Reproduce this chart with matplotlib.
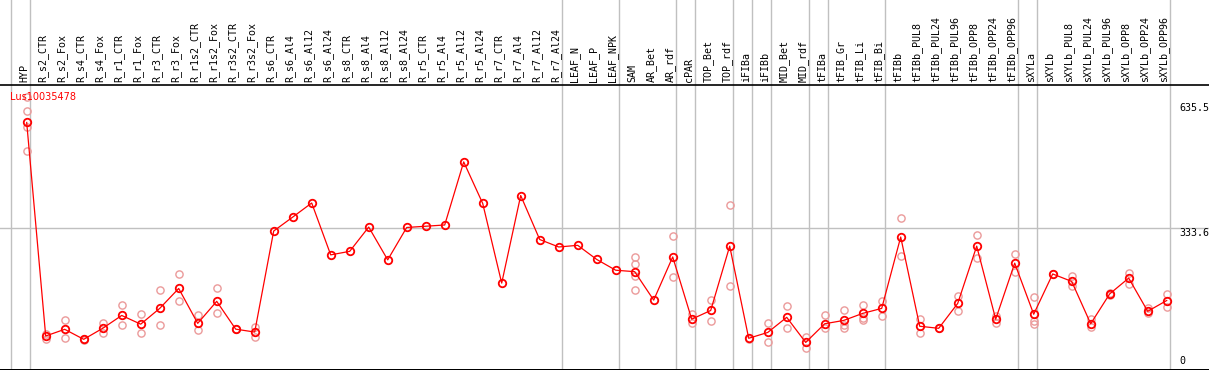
import matplotlib
matplotlib.use("Agg")
import matplotlib.pyplot as plt

# sample labels, left to right
samples = ["HYP", "R_s2_CTR", "R_s2_Fox", "R_s4_CTR", "R_s4_Fox", "R_r1_CTR", "R_r1_Fox",
           "R_r3_CTR", "R_r3_Fox", "R_r1s2_CTR", "R_r1s2_Fox", "R_r3s2_CTR", "R_r3s2_Fox",
           "R_s6_CTR", "R_s6_Al4", "R_s6_Al12", "R_s6_Al24", "R_s8_CTR", "R_s8_Al4",
           "R_s8_Al12", "R_s8_Al24", "R_r5_CTR", "R_r5_Al4", "R_r5_Al12", "R_r5_Al24",
           "R_r7_CTR", "R_r7_Al4", "R_r7_Al12", "R_r7_Al24", "LEAF_N", "LEAF_P", "LEAF_NPK",
           "SAM", "AR_Bet", "AR_rdf", "cPAR", "TOP_Bet", "TOP_rdf", "iFIBa", "iFIBb",
           "MID_Bet", "MID_rdf", "tFIBa", "tFIB_Gr", "tFIB_Li", "tFIB_Bi", "tFIBb",
           "tFIBb_PUL8", "tFIBb_PUL24", "tFIBb_PUL96", "tFIBb_OPP8", "tFIBb_OPP24",
           "tFIBb_OPP96", "sXYLa", "sXYLb", "sXYLb_PUL8", "sXYLb_PUL24", "sXYLb_PUL96",
           "sXYLb_OPP8", "sXYLb_OPP24", "sXYLb_OPP96"]

# mean expression per sample
means = [588, 73.5, 89.6, 65.5, 92, 123, 102, 140, 188, 104, 157, 90, 83,
         326.5, 360, 394, 269, 277.5, 336, 257, 335, 338, 341, 493, 393,
         201, 412, 306, 288, 292, 258, 232,
         228.5, 160, 264, 114, 135, 290, 68, 82, 118.5, 58,
         103, 111, 128, 140, 312, 97, 92, 152, 290, 114, 249,
         126, 223, 205, 103, 175, 213, 133, 159]

# individual replicates per sample
replicates = [[649, 615, 576, 519], [78, 66], [112, 68], [66, 65], [106, 80], [148, 99],
              [126, 80], [184, 99], [223, 157], [124, 88], [188, 128], [91, 90], [94, 70],
              [], [], [], [], [], [], [], [], [], [], [], [],
              [], [], [], [], [], [], [],
              [264, 247, 218, 184], [], [314.5, 215], [126.5, 104], [160, 110], [388, 193],
              [67], [105, 60], [146, 93], [72, 45],
              [123, 92], [136, 100, 92], [148, 116, 112], [159, 122], [358, 267], [114, 80],
              [93], [170, 133], [317, 261], [122, 104], [271, 228],
              [167, 110, 102], [224], [218, 195], [114, 96], [178, 172], [226, 200],
              [140, 128], [175, 143]]

# last sample index of each group (grey separators)
group_ends = [-1, 0, 28, 31, 34, 35, 37, 38, 39, 41, 42, 45, 52, 53, 60]

y_ticks = [0, 333.6, 635.5]
gene = "Lus10035478"

W, H = 1209, 370
fig = plt.figure(figsize=(W / 100, H / 100), dpi=100)
fig.patch.set_edgecolor("black")
fig.patch.set_linewidth(1.5)

px = 19.0
xmin = -26.7 / px
xmax = xmin + W / px

top_px = 85
bot_px = 369
ax_head = fig.add_axes([0, 1 - top_px / H, 1, top_px / H])
ax = fig.add_axes([0, 1 - bot_px / H, 1, (bot_px - top_px) / H], sharex=ax_head)

scale = 0.415
ax.set_xlim(xmin, xmax)
ax.set_ylim((366.5 - bot_px) / scale, (366.5 - top_px) / scale)
ax_head.set_ylim(0, 1)

for a in (ax, ax_head):
    for s in a.spines.values():
        s.set_visible(False)
    a.set_xticks([])
    a.set_yticks([])
    for g in group_ends:
        a.axvline(g + 0.17, color="#c0c0c0", lw=1, zorder=0)

ax.spines["top"].set_visible(True)
ax.spines["top"].set_linewidth(1.2)
ax.axhline(333.6, color="#c0c0c0", lw=1, zorder=0)

mono = "DejaVu Sans Mono"
for i, name in enumerate(samples):
    ax_head.text(i - 0.14, 0.03, name, rotation=90, ha="center", va="bottom",
                 fontsize=7.2, family=mono)

# replicates
for i, reps in enumerate(replicates):
    if reps:
        ax.plot([i] * len(reps), reps, "o", ms=5.2, mfc="none", mec="#eb9a9a",
                mew=1.0, zorder=2)

x = list(range(len(samples)))
ax.plot(x, means, "-", color="red", lw=0.9, zorder=3)
ax.plot(x, means, "o", ms=5.4, mfc="none", mec="red", mew=1.3, zorder=4)

ax.text(-0.88, 650, gene, color="red", fontsize=7, va="center", ha="left")

xr = 1179 / px + xmin
for v in y_ticks:
    va = "bottom" if v == 0 else "top"
    ax.text(xr, v, f"{v:g}", fontsize=7.2, family=mono, ha="left", va=va)

fig.savefig("out.png", dpi=100)
